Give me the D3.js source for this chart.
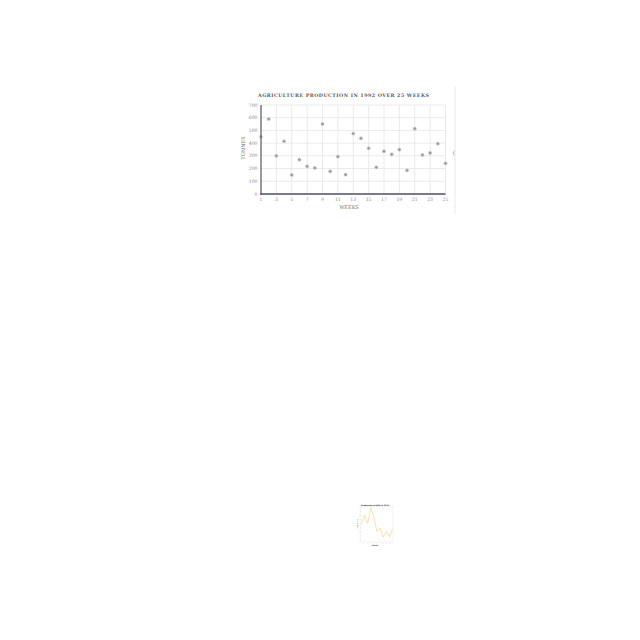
<!DOCTYPE html>
<html><head><meta charset="utf-8">
<script src="https://cdn.jsdelivr.net/npm/d3@7"></script>
<style>html,body{margin:0;padding:0;background:#fff;}svg{display:block;}</style>
</head><body>
<svg id="c" width="640" height="640"></svg>
<script>
// Main chart data
const weeks = d3.range(1, 26);
const tonnes = [450, 590, 300, 415, 150, 270, 218, 205, 551, 178, 294, 152, 475, 438, 360, 210, 336, 312, 349, 186, 514, 307, 323, 396, 241];
const xTickLabels = [1, 3, 5, 7, 9, 11, 13, 15, 17, 19, 21, 23, 25];
const yTickLabels = [0, 100, 200, 300, 400, 500, 600, 700];
const title = "AGRICULTURE PRODUCTION IN 1992 OVER 25 WEEKS";

// Small chart data
const months = d3.range(1, 12);
const milk = [49, 77, 51, 100, 69, 26, 37, 9, 26, 9, 34];
const smallTitle = "Production of Milk in 2015";

const svg = d3.select("#c");
const serif = "'DejaVu Serif', 'Liberation Serif', serif";

const x = d3.scaleLinear().domain([1, 25]).range([261, 445.5]);
const y = d3.scaleLinear().domain([0, 700]).range([194, 105]);

// frame line at right
svg.append("line").attr("x1", 455).attr("x2", 455).attr("y1", 86).attr("y2", 214)
  .attr("stroke", "#e8e8e8").attr("stroke-width", 1);

// grids
svg.append("g").selectAll("line").data(yTickLabels.slice(1)).join("line")
  .attr("x1", x(1)).attr("x2", x(25)).attr("y1", d => y(d)).attr("y2", d => y(d))
  .attr("stroke", "#e4e4e4").attr("stroke-width", 0.8);
svg.append("g").selectAll("line").data(xTickLabels.slice(1)).join("line")
  .attr("x1", d => x(d)).attr("x2", d => x(d)).attr("y1", y(700)).attr("y2", y(0))
  .attr("stroke", "#e4e4e4").attr("stroke-width", 0.8);

// points
svg.append("g").selectAll("circle").data(weeks).join("circle")
  .attr("cx", d => x(d)).attr("cy", (d, i) => y(tonnes[i])).attr("r", 1.6)
  .attr("fill", "#999").attr("stroke", "#cfcfcf").attr("stroke-width", 0.6);

// axes lines
svg.append("line").attr("x1", x(1)).attr("x2", x(1)).attr("y1", y(700)).attr("y2", y(0) + 1)
  .attr("stroke", "#6a6e7e").attr("stroke-width", 1.4);
svg.append("line").attr("x1", x(1) - 0.7).attr("x2", x(25)).attr("y1", y(0)).attr("y2", y(0))
  .attr("stroke", "#4a4f64").attr("stroke-width", 1.6);

// tick labels
svg.append("g").selectAll("text").data(yTickLabels).join("text")
  .attr("x", 257.5).attr("y", d => y(d) + 1.6).attr("text-anchor", "end")
  .attr("font-family", serif).attr("font-size", 4.6).attr("fill", "#888")
  .text(d => d);
svg.append("g").selectAll("text").data(xTickLabels).join("text")
  .attr("x", d => x(d)).attr("y", 201).attr("text-anchor", "middle")
  .attr("font-family", serif).attr("font-size", 4.6).attr("fill", "#888")
  .text(d => d);

// axis titles
svg.append("text").attr("x", 349).attr("y", 208.5).attr("text-anchor", "middle")
  .attr("font-family", serif).attr("font-size", 5).attr("fill", "#777").text("WEEKS");
svg.append("text").attr("transform", "translate(245,148) rotate(-90)").attr("text-anchor", "middle")
  .attr("font-family", serif).attr("font-size", 5).attr("fill", "#777").text("TONNES");

// title
svg.append("text").attr("x", 258).attr("y", 97)
  .attr("font-family", serif).attr("font-size", 4.8).attr("font-weight", "bold").attr("fill", "#5a5a5a")
  .attr("textLength", 171).attr("lengthAdjust", "spacing").text(title);

// clipped ring at right edge
svg.append("clipPath").attr("id", "clipR").append("rect").attr("x", 440).attr("y", 140).attr("width", 14.5).attr("height", 30);
svg.append("circle").attr("cx", 456).attr("cy", 153).attr("r", 2.6).attr("fill", "none")
  .attr("stroke", "#aaa").attr("stroke-width", 0.8).attr("clip-path", "url(#clipR)");

// ---- small chart ----
const sx = d3.scaleLinear().domain([1, 11]).range([361.5, 392.5]);
const sy = d3.scaleLinear().domain([0, 100]).range([540, 507.5]);
const sg = svg.append("g");
sg.append("rect").attr("x", 360).attr("y", 506.5).attr("width", 33).attr("height", 35.5)
  .attr("fill", "none").attr("stroke", "#e6e6e6").attr("stroke-width", 0.5);
sg.append("g").selectAll("line").data(d3.range(0, 101, 12.5)).join("line")
  .attr("x1", 360).attr("x2", 361).attr("y1", d => sy(d)).attr("y2", d => sy(d))
  .attr("stroke", "#bbb").attr("stroke-width", 0.4);
sg.append("path").datum(months)
  .attr("d", d3.line().x(d => sx(d)).y((d, i) => sy(milk[i])))
  .attr("fill", "none").attr("stroke", "#f6d393").attr("stroke-width", 0.7);
sg.append("text").attr("x", 375).attr("y", 505.5).attr("text-anchor", "middle")
  .attr("font-family", "DejaVu Sans, sans-serif").attr("font-size", 1.9).attr("font-weight", "bold")
  .attr("fill", "#222").text(smallTitle);
sg.append("text").attr("transform", "translate(357.5,524) rotate(-90)").attr("text-anchor", "middle")
  .attr("font-family", "DejaVu Sans, sans-serif").attr("font-size", 1.8).attr("fill", "#444").text("Production");
sg.append("text").attr("x", 375).attr("y", 545.5).attr("text-anchor", "middle")
  .attr("font-family", "DejaVu Sans, sans-serif").attr("font-size", 1.8).attr("font-weight", "bold").attr("fill", "#444").text("Month");
sg.append("g").selectAll("text").data(months).join("text")
  .attr("x", d => sx(d)).attr("y", 543.5).attr("text-anchor", "middle")
  .attr("font-family", "DejaVu Sans, sans-serif").attr("font-size", 1.2).attr("fill", "#888").text(d => d);
</script>
</body></html>
